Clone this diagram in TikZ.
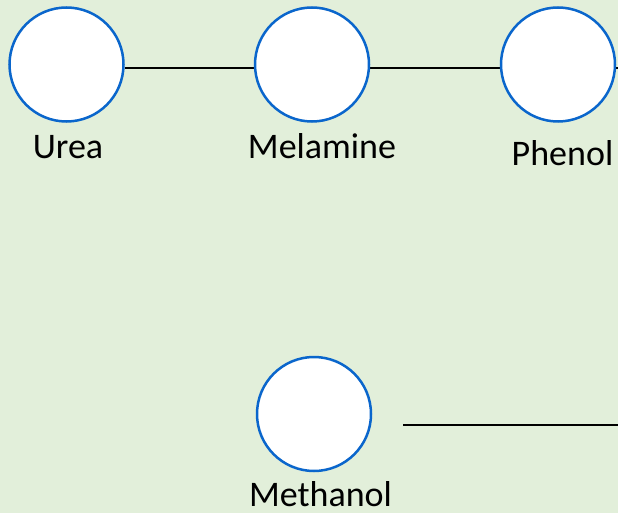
\documentclass[tikz,border=0pt]{standalone}
\usepackage{fontspec}
\setmainfont{Carlito}
\usetikzlibrary{backgrounds}
\definecolor{bgreen}{HTML}{E2EFDA}
\definecolor{cblue}{HTML}{0A66CC}
\tikzset{
  ring/.style={circle, draw=cblue, line width=2.5pt, fill=white, minimum size=114pt, inner sep=0pt},
  lbl/.style={anchor=base, font=\fontsize{36}{40}\selectfont, text=black, inner sep=0pt},
  link/.style={draw=black, line width=2.6pt}
}
\begin{document}
\begin{tikzpicture}[x=1pt,y=-1pt]
\useasboundingbox (0,0) rectangle (618,513);
\node[ring] (urea) at (66.5,64.5) {};
\node[ring] (mel) at (312,64.5) {};
\node[ring] (phen) at (558,64.5) {};
\node[ring] (meth) at (314,414) {};
\node[lbl] (turea) at (68,159) {Urea};
\node[lbl] (tmel) at (322,159) {Melamine};
\node[lbl] (tphen) at (562.5,166) {Phenol};
\node[lbl] (tmeth) at (320.5,506) {Methanol};
\coordinate (redge) at (618,68);
\coordinate (ms) at (403,425);
\coordinate (me) at (618,425);
\begin{scope}[on background layer]
\fill[bgreen] (0,0) rectangle (618,513);
\draw[link] ([yshift=-3.5pt]urea.east) -- ([yshift=-3.5pt]mel.west);
\draw[link] ([yshift=-3.5pt]mel.east) -- ([yshift=-3.5pt]phen.west);
\draw[link] ([yshift=-3.5pt]phen.east) -- (redge);
\end{scope}
\draw[link] (ms) -- (me);
\end{tikzpicture}
\end{document}
